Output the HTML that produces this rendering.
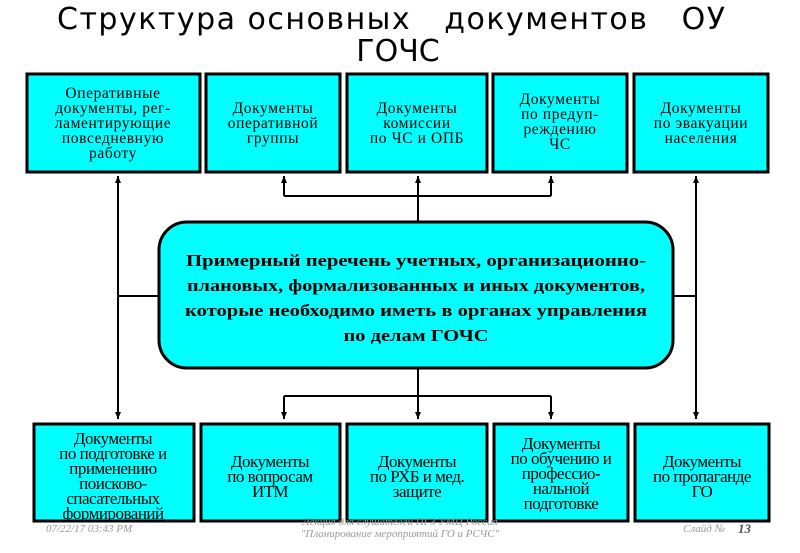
<!DOCTYPE html>
<html><head><meta charset="utf-8"><style>
html,body{margin:0;padding:0;background:#fff;width:800px;height:553px;overflow:hidden}
svg{display:block}
.t{font-family:"Liberation Serif","DejaVu Serif",serif;font-size:15.5px;letter-spacing:0.6px;fill:#000}
.b{font-family:"Liberation Serif",serif;font-size:17px;fill:#000;font-weight:bold}
.c{font-family:"Liberation Serif",serif;font-size:17px;letter-spacing:-0.5px;fill:#000}
.f{font-family:"Liberation Serif",serif;font-style:italic;font-size:11px;fill:#999}
</style></head><body>
<svg width="800" height="553" viewBox="0 0 800 553" xmlns="http://www.w3.org/2000/svg">
<defs><marker id="a" markerWidth="8" markerHeight="8" refX="7" refY="4" orient="auto" markerUnits="userSpaceOnUse"><path d="M0,1 L7,4 L0,7 z" fill="#000"/></marker></defs>
<text x="391" y="29" font-family="DejaVu Sans,sans-serif" font-size="30" text-anchor="middle" textLength="668" lengthAdjust="spacing" xml:space="preserve">Структура основных   документов   ОУ</text>
<text x="398" y="61" font-family="DejaVu Sans,sans-serif" font-size="30" text-anchor="middle">ГОЧС</text>
<g fill="#00ffff" stroke="#000" stroke-width="3">
<rect x="27" y="74" width="173" height="98"/>
<rect x="206" y="74" width="134" height="98"/>
<rect x="347" y="74" width="140" height="98"/>
<rect x="493" y="74" width="134" height="98"/>
<rect x="634" y="74" width="134" height="98"/>
<rect x="34" y="424" width="160" height="97"/>
<rect x="201" y="424" width="139" height="97"/>
<rect x="347" y="424" width="140" height="97"/>
<rect x="494" y="424" width="134" height="97"/>
<rect x="635" y="424" width="134" height="97"/>
<rect x="159" y="222" width="514" height="146" rx="28" ry="28"/>
</g>
<g stroke="#000" stroke-width="2" fill="none">
<path d="M118 296 V176" marker-end="url(#a)"/><path d="M118 296 V419" marker-end="url(#a)"/><path d="M118 296 H159"/>
<path d="M696 296 V176" marker-end="url(#a)"/><path d="M696 296 V419" marker-end="url(#a)"/><path d="M673 296 H696"/>
<path d="M418 222 V176" marker-end="url(#a)"/><path d="M284 196 V176" marker-end="url(#a)"/><path d="M551 196 V176" marker-end="url(#a)"/><path d="M284 196 H551"/>
<path d="M418 368 V419" marker-end="url(#a)"/><path d="M284 396 V419" marker-end="url(#a)"/><path d="M551 396 V419" marker-end="url(#a)"/><path d="M284 396 H551"/>
</g>
<g class="t" text-anchor="middle">
<text x="113" y="98">Оперативные</text><text x="113" y="113">документы, рег-</text><text x="113" y="128">ламентирующие</text><text x="113" y="143">повседневную</text><text x="113" y="158">работу</text>
<text x="273" y="113">Документы</text><text x="273" y="128">оперативной</text><text x="273" y="143">группы</text>
<text x="417" y="113">Документы</text><text x="417" y="128">комиссии</text><text x="417" y="143">по ЧС и ОПБ</text>
<text x="560" y="104">Документы</text><text x="560" y="119">по предуп-</text><text x="560" y="134">реждению</text><text x="560" y="149">ЧС</text>
<text x="701" y="113">Документы</text><text x="701" y="128">по эвакуации</text><text x="701" y="143">населения</text>
</g>
<g class="b" text-anchor="middle">
<text x="416" y="266" textLength="460" lengthAdjust="spacingAndGlyphs">Примерный перечень учетных, организационно-</text>
<text x="416" y="291" textLength="458" lengthAdjust="spacingAndGlyphs">плановых, формализованных и иных документов,</text>
<text x="416" y="316" textLength="462" lengthAdjust="spacingAndGlyphs">которые необходимо иметь в органах управления</text>
<text x="416" y="341" textLength="145" lengthAdjust="spacingAndGlyphs">по делам ГОЧС</text>
</g>
<g class="c" text-anchor="middle">
<text x="113" y="444">Документы</text><text x="113" y="459">по подготовке и</text><text x="113" y="474">применению</text><text x="113" y="489">поисково-</text><text x="113" y="504">спасательных</text><text x="113" y="519">формирований</text>
<text x="270" y="467">Документы</text><text x="270" y="482">по вопросам</text><text x="270" y="497">ИТМ</text>
<text x="417" y="467">Документы</text><text x="417" y="482">по РХБ и мед.</text><text x="417" y="497">защите</text>
<text x="561" y="449">Документы</text><text x="561" y="464">по обучению и</text><text x="561" y="479">профессио-</text><text x="561" y="494">нальной</text><text x="561" y="509">подготовке</text>
<text x="702" y="467">Документы</text><text x="702" y="482">по пропаганде</text><text x="702" y="497">ГО</text>
</g>
<text class="f" x="46" y="532">07/22/17 03:43 PM</text>
<text class="f" x="400" y="525" text-anchor="middle">Лекция для слушателей ПГЗ УМЦ Россия</text>
<text class="f" x="400" y="537" text-anchor="middle">"Планирование мероприятий ГО и РСЧС"</text>
<text class="f" x="683" y="532">Слайд  №</text>
<text x="738" y="533" font-family="Liberation Serif,serif" font-style="italic" font-weight="bold" font-size="13" fill="#555">13</text>
</svg>
</body></html>
